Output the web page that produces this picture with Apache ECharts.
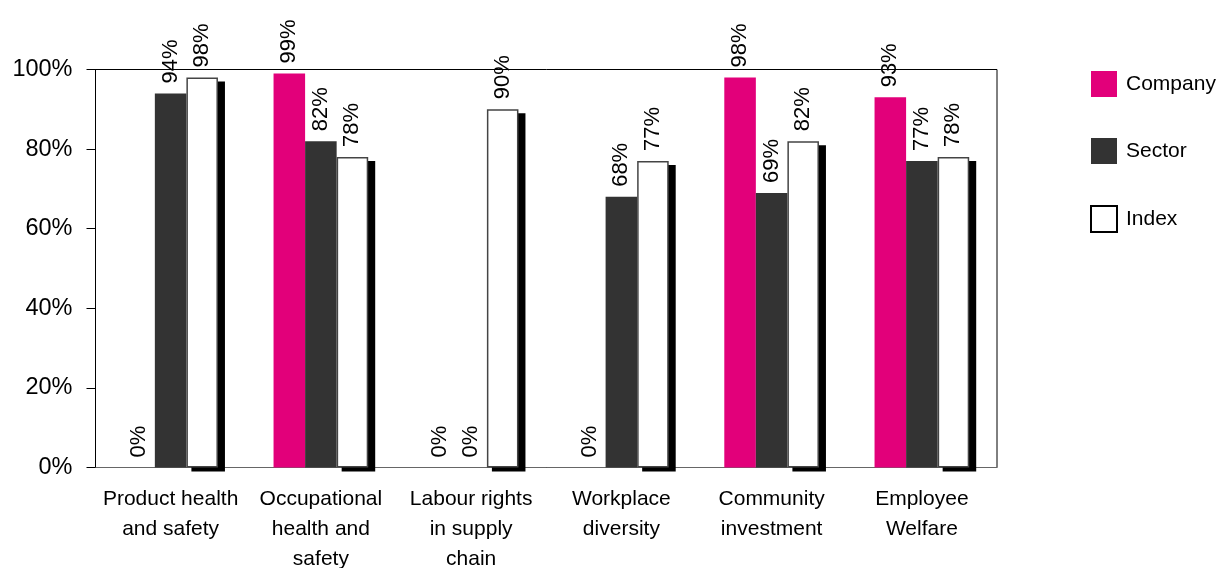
<!DOCTYPE html>
<html>
<head>
<meta charset="utf-8">
<script src="https://cdn.jsdelivr.net/npm/echarts@6/dist/echarts.min.js"></script>
<style>
  html, body { margin: 0; padding: 0; background: #fff; }
  #chart { width: 1218px; height: 568px; }
</style>
</head>
<body>
<div id="chart"></div>
<script>
// Categories and scores (percent)
const categories = [
  'Product health\nand safety',
  'Occupational\nhealth and\nsafety',
  'Labour rights\nin supply\nchain',
  'Workplace\ndiversity',
  'Community\ninvestment',
  'Employee\nWelfare'
];
const companyValues = [0, 99, 0, 0, 98, 93];
const sectorValues  = [94, 82, 0, 68, 69, 77];
const indexValues   = [98, 78, 90, 77, 82, 78];
const seriesNames   = ['Company', 'Sector', 'Index'];

const FONT = '"Liberation Sans", Arial, Helvetica, sans-serif';
const CATEGORY_GAP = 0.37;   // fraction of each category band left empty
const BARS_PER_GROUP = 3;

const valueLabel = {
  show: true,
  position: 'top',
  rotate: 90,
  align: 'left',
  verticalAlign: 'middle',
  distance: 10,
  color: '#000',
  fontFamily: FONT,
  fontSize: 22,
  formatter: p => p.value + '%'
};

// Drop shadow behind the Index bars: a black block shifted right and down
function renderIndexShadow(params, api) {
  const i = api.value(0);
  const v = api.value(1);
  const base = api.coord([i, 0]);
  const top = api.coord([i, v]);
  const band = api.size([1, 0])[0];
  const bw = band * (1 - CATEGORY_GAP) / BARS_PER_GROUP;
  const left = base[0] + 0.5 * bw + 5;
  const right = base[0] + 1.5 * bw + 7;
  return {
    type: 'rect',
    shape: { x: left, y: top[1] + 4, width: right - left, height: base[1] - top[1] },
    style: { fill: '#000' }
  };
}

const chart = echarts.init(document.getElementById('chart'), null, { renderer: 'canvas' });

chart.setOption({
  animation: false,
  backgroundColor: '#fff',
  textStyle: { fontFamily: FONT },
  grid: {
    left: 95.5, right: 221, top: 69.5, bottom: 100.5,
    outerBoundsMode: 'none',
    containLabel: false,
    show: true, borderColor: '#000', borderWidth: 1, backgroundColor: 'transparent'
  },
  legend: {
    orient: 'vertical',
    left: 1090, top: 71,
    padding: 0,
    itemWidth: 26, itemHeight: 26, itemGap: 41,
    textStyle: { fontSize: 21, color: '#000', fontFamily: FONT, padding: [0, 0, 0, 4] },
    data: [
      { name: seriesNames[0], icon: 'rect' },
      { name: seriesNames[1], icon: 'rect' },
      { name: seriesNames[2], icon: 'rect', itemStyle: { color: '#fff', borderColor: '#000', borderWidth: 2 } }
    ]
  },
  xAxis: {
    type: 'category',
    data: categories,
    axisLine: { show: true, lineStyle: { color: '#666', width: 1 } },
    axisTick: { show: false },
    axisLabel: {
      interval: 0, margin: 17, color: '#000', fontSize: 21, lineHeight: 30, fontFamily: FONT
    }
  },
  yAxis: {
    type: 'value',
    min: 0, max: 100, interval: 20,
    axisLine: { show: true, lineStyle: { color: '#000', width: 1 } },
    axisTick: { show: true, length: 9, lineStyle: { color: '#000' } },
    splitLine: { show: false },
    axisLabel: {
      formatter: '{value}%', margin: 23, color: '#000', fontSize: 23.5, fontFamily: FONT
    }
  },
  series: [
    {
      type: 'custom',
      name: 'shadow',
      data: indexValues.map((v, i) => [i, v]),
      renderItem: renderIndexShadow,
      z: 1,
      silent: true,
      clip: false
    },
    {
      name: seriesNames[0], type: 'bar', data: companyValues,
      barGap: '0%', barCategoryGap: (CATEGORY_GAP * 100) + '%',
      z: 2,
      itemStyle: { color: '#E2007A' },
      label: valueLabel
    },
    {
      name: seriesNames[1], type: 'bar', data: sectorValues,
      barGap: '0%', barCategoryGap: (CATEGORY_GAP * 100) + '%',
      z: 2,
      itemStyle: { color: '#333333' },
      label: valueLabel
    },
    {
      name: seriesNames[2], type: 'bar', data: indexValues,
      barGap: '0%', barCategoryGap: (CATEGORY_GAP * 100) + '%',
      z: 2,
      itemStyle: { color: '#fff', borderColor: '#444', borderWidth: 1.5 },
      label: valueLabel
    }
  ]
});
</script>
</body>
</html>
